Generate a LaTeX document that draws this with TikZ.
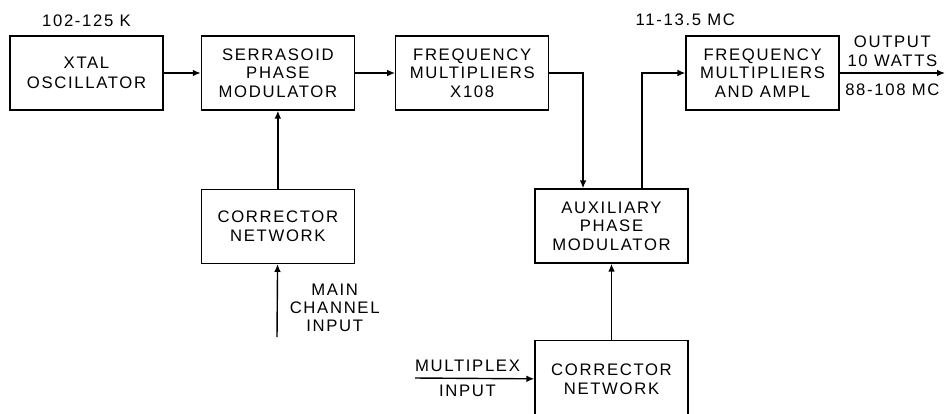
\documentclass[tikz,border=0pt]{standalone}
\usepackage{fontspec}
\setmainfont{Liberation Sans}[LetterSpace=10]
\usetikzlibrary{arrows.meta,positioning}
\begin{document}
\begin{tikzpicture}[x=0.02cm,y=-0.02cm,>={Latex[length=4.5pt,width=3.8pt]},line width=0.8pt,
  every node/.style={font=\fontsize{9.5}{10.5}\selectfont,align=center},
  blk/.style={draw,minimum width=3.06cm,minimum height=1.48cm}]
\clip (0,0) rectangle (946,413);
\node[blk] (xtal) at (86.5,73) {XTAL\\[1pt]OSCILLATOR};
\node[blk,right=0.74cm of xtal] (serr) {SERRASOID\\PHASE\\MODULATOR};
\node[blk,right=0.8cm of serr] (mult) {FREQUENCY\\MULTIPLIERS\\X108};
\node[blk,right=2.72cm of mult] (ampl) {FREQUENCY\\MULTIPLIERS\\AND AMPL};
\node[blk,below=1.56cm of serr] (corr) {CORRECTOR\\NETWORK};
\node[blk] (aux) at (611.5,226) {AUXILIARY\\PHASE\\MODULATOR};
\node[blk,below=1.52cm of aux,minimum height=1.56cm] (corx) {CORRECTOR\\NETWORK};
\node[above=0.05cm of xtal] (xfreq) {102-125 K};
\node[above=0.06cm of ampl.north west] (afreq) {11-13.5 MC};
\coordinate (main) at (277,337);\coordinate (mplx) at (415,378);\coordinate (out) at (945,73);
\draw[->] (xtal)--(serr);\draw[->] (serr)--(mult);
\draw[->] (mult.east)-|([xshift=-0.57cm]aux.north);\draw[->] ([xshift=0.61cm]aux.north)|-(ampl.west);
\draw[->] (corr)--(serr);\draw[->] (corx)--(aux);
\draw[->] (main)--node[right=0.12cm,pos=0.4] (mainlbl) {MAIN\\CHANNEL\\INPUT} (corr);
\draw[->] (mplx)--node[above,pos=0.44] (mplxlbl) {MULTIPLEX} node[below,pos=0.44] (inlbl) {INPUT} (corx);
\draw[->] (ampl)--node[above] (outlbl) {OUTPUT\\10 WATTS} node[below=0.08cm] (bandlbl) {88-108 MC} (out);
\end{tikzpicture}
\end{document}
